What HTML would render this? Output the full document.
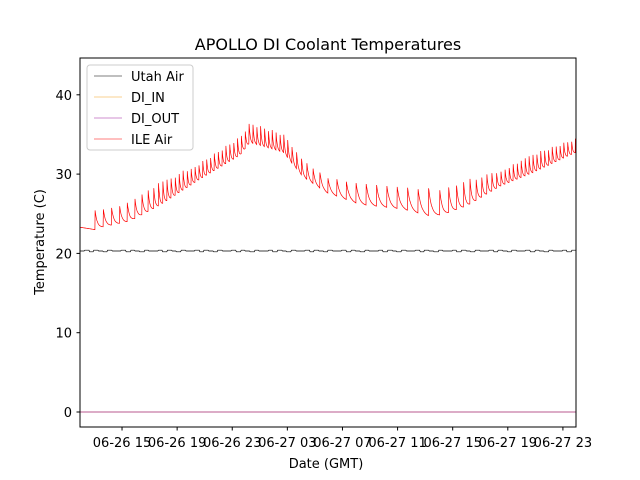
<!DOCTYPE html>
<html><head><meta charset="utf-8"><style>
body{margin:0;background:#fff;}
svg{display:block;font-family:"DejaVu Sans","Liberation Sans",sans-serif;}
</style></head><body>
<svg id="c" width="640" height="480">
<rect width="640" height="480" fill="#fff"/>
<text x="328" y="50" font-size="16" text-anchor="middle">APOLLO DI Coolant Temperatures</text>
<g id="plot"></g>
<rect x="80" y="58" width="496" height="369" fill="none" stroke="#000" stroke-width="1"/>
<g id="axes"></g>
<text x="326" y="468" font-size="13" text-anchor="middle">Date (GMT)</text>
<text transform="translate(44,242) rotate(-90)" font-size="13" text-anchor="middle">Temperature (C)</text>
<g>
<rect x="87" y="65" width="106" height="85" rx="3" fill="#fff" fill-opacity="0.8" stroke="#ccc"/>
<line x1="94" y1="76" x2="122" y2="76" stroke="#000" stroke-width="0.6"/><text x="131" y="81" font-size="13">Utah Air</text>
<line x1="94" y1="97" x2="122" y2="97" stroke="#f5a623" stroke-width="0.6"/><text x="131" y="102" font-size="13">DI_IN</text>
<line x1="94" y1="118" x2="122" y2="118" stroke="#a020a0" stroke-width="0.6"/><text x="131" y="123" font-size="13">DI_OUT</text>
<line x1="94" y1="139" x2="122" y2="139" stroke="#f00" stroke-width="0.6"/><text x="131" y="144" font-size="13">ILE Air</text>
</g>
</svg>
<script>
// hours since 06-26 00:00
const envHours=[11.95,13.04,13.4,15.58,17.76,20.66,23.56,24.29,26.68,28.13,29.87,32.27,35.39,37.35,38.29,40.03,42.43,44.82,47.95];
const envLow=[23.3,23.0,23.2,24.0,26.0,29.3,32.3,33.9,32.7,29.6,27.6,26.1,25.5,24.6,24.8,25.9,28.4,30.1,32.7];
const envHigh=[23.3,25.5,25.5,26.5,29.0,31.5,34.8,36.6,35.2,31.8,29.6,28.9,28.4,28.2,28.2,29.3,30.5,32.7,34.6];
const periodHours=[0.6,0.6,0.6,0.55,0.3,0.28,0.28,0.28,0.28,0.4,0.65,0.75,0.75,0.8,0.6,0.45,0.3,0.28,0.28];
const utahLevel=[20.3,20.4,20.2,20.4,20.3,20.2,20.4,20.3];
const diOut=[0.0];
const yTicks=[0,10,20,30,40];
const xTickHours=[15,19,23,27,31,35,39,43,47];
const xTickLabels=["06-26 15","06-26 19","06-26 23","06-27 03","06-27 07","06-27 11","06-27 15","06-27 19","06-27 23"];
const X0=80,X1=576,T0=11.95,T1=47.95;
const xs=h=>X0+(h-T0)/(T1-T0)*(X1-X0);
const ys=v=>412-v*7.93;
const NS="http://www.w3.org/2000/svg";
const plot=document.getElementById('plot'),axes=document.getElementById('axes');
function interp(arrX,arrY,t){if(t<=arrX[0])return arrY[0];for(let i=1;i<arrX.length;i++){if(t<=arrX[i]){const f=(t-arrX[i-1])/(arrX[i]-arrX[i-1]);return arrY[i-1]+f*(arrY[i]-arrY[i-1]);}}return arrY[arrY.length-1];}
function mk(tag,attrs){const e=document.createElementNS(NS,tag);for(const k in attrs)e.setAttribute(k,attrs[k]);return e;}
const starts=[];let c=13.04;
while(c<T1){starts.push(c);c+=interp(envHours,periodHours,c);}
let pu="";
for(let h=T0;h<=T1;h+=0.05){const i=Math.floor((h-T0)*3)%utahLevel.length;const v=utahLevel[i];pu+=(pu?"L":"M")+xs(h).toFixed(1)+","+ys(v).toFixed(1);}
const u=mk('path',{d:pu,fill:"none",stroke:"#000","stroke-width":0.7});


plot.appendChild(u);
const di=mk('line',{x1:X0,x2:X1,y1:ys(diOut[0]),y2:ys(diOut[0]),stroke:"#a0206a","stroke-width":0.8});


plot.appendChild(di);
let pr="";
for(let h=T0;h<=T1;h+=0.015){
 let s=null;for(const st of starts){if(st<=h)s=st;else break;}
 const lo=interp(envHours,envLow,h),hi=interp(envHours,envHigh,h);
 let v=lo;
 if(s!==null){const p=interp(envHours,periodHours,s);v=lo+(hi-lo)*Math.exp(-(h-s)/p*3.5);}
 pr+=(pr?"L":"M")+xs(h).toFixed(1)+","+ys(v).toFixed(1);
}
const r=mk('path',{d:pr,fill:"none",stroke:"#f00","stroke-width":0.7});


plot.appendChild(r);
yTicks.forEach(v=>{
 const y=ys(v);
 const t=mk('line',{x1:76.5,x2:80,y1:y,y2:y,stroke:"#000"});
 
 
 axes.appendChild(t);
 const l=mk('text',{x:72,y:y+5,"font-size":13,"text-anchor":"end"});l.textContent=v;
 
 
 axes.appendChild(l);
});
xTickHours.forEach((h,i)=>{
 const x=xs(h);
 const t=mk('line',{x1:x,x2:x,y1:427,y2:430.5,stroke:"#000"});
 
 
 axes.appendChild(t);
 const l=mk('text',{x:x,y:447,"font-size":13,"text-anchor":"middle"});l.textContent=xTickLabels[i];
 
 
 axes.appendChild(l);
});
</script>
</body></html>
